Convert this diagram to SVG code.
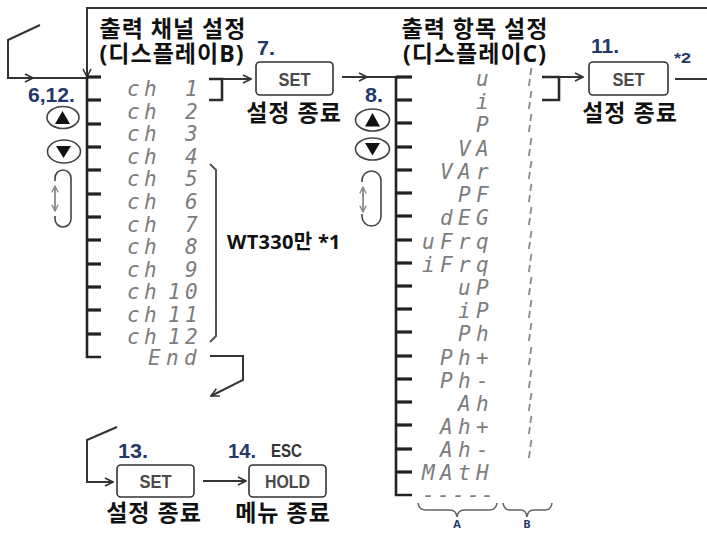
<svg xmlns="http://www.w3.org/2000/svg" width="707" height="533" viewBox="0 0 707 533">
<defs>
<style>
.ln{stroke:#333;stroke-width:2;fill:none}
.bk{stroke:#2a2a2a;stroke-width:2.6;fill:none}
.lad{stroke:#222;stroke-width:2.6;fill:none}
.tk{stroke:#222;stroke-width:3.2}
.seg{font-family:"DejaVu Sans Mono",monospace;font-style:italic;font-size:21px;fill:#7d7d7d}
.kr{font-family:"Open Sans","Noto Sans CJK KR",sans-serif;font-weight:700;font-size:23px;fill:#111;letter-spacing:1px}
.num{font-family:"Liberation Sans Narrow","Liberation Sans",sans-serif;font-weight:700;font-size:21px;fill:#23396b}
.key{font-family:"Liberation Sans Narrow","Liberation Sans",sans-serif;font-weight:700;font-size:18px;fill:#4a4a4a}
.box{fill:#fff;stroke:#333;stroke-width:1.6}
.btn{fill:#fff;stroke:#444;stroke-width:1.6}
.tri{fill:#111}
.gr{stroke:#8a8a8a;stroke-width:1.8;fill:none}
.brc{stroke:#666;stroke-width:1.6;fill:none}
</style>
<marker id="ah" viewBox="0 0 10 10" refX="9" refY="5" markerWidth="10" markerHeight="10" markerUnits="userSpaceOnUse" orient="auto">
<path d="M1,1 L9,5 L1,9" fill="none" stroke="#333" stroke-width="1.6"/>
</marker>
<marker id="gh" viewBox="0 0 10 10" refX="9" refY="5" markerWidth="8" markerHeight="8" markerUnits="userSpaceOnUse" orient="auto-start-reverse">
<path d="M1,1 L9,5 L1,9" fill="none" stroke="#888" stroke-width="1.6"/>
</marker>
</defs>
<rect width="707" height="533" fill="#fff"/>

<g id="connectors">
<path class="ln" d="M707,8 H87 V77" marker-end="url(#ah)"/>
<path class="ln" d="M40,25 L8,40 V78 H33" marker-end="url(#ah)"/>
<path class="ln" d="M33,78 H87"/>
<path class="bk" d="M209,79 H222 V100 H209"/>
<path class="ln" d="M222,79 H251" marker-end="url(#ah)"/>
<path class="ln" d="M342,77 H367" marker-end="url(#ah)"/>
<path class="ln" d="M367,77 H396"/>
<path class="bk" d="M542,77 H559 V100 H542"/>
<path class="ln" d="M559,77 H583" marker-end="url(#ah)"/>
<path class="ln" d="M675,79 H707"/>
<path class="ln" d="M210,356 H243 V380 L211,396" marker-end="url(#ah)"/>
<path class="ln" d="M117,427 L87,440 V482 H113" marker-end="url(#ah)"/>
<path class="ln" d="M203,481 H246" marker-end="url(#ah)"/>
</g>

<g id="ladder1">
<path class="lad" d="M87,77 V357 H101"/>
<g class="tk">
<line x1="87" y1="77" x2="101" y2="77"/><line x1="87" y1="100" x2="101" y2="100"/><line x1="87" y1="124" x2="101" y2="124"/><line x1="87" y1="147" x2="101" y2="147"/><line x1="87" y1="170" x2="101" y2="170"/><line x1="87" y1="194" x2="101" y2="194"/><line x1="87" y1="217" x2="101" y2="217"/><line x1="87" y1="240" x2="101" y2="240"/><line x1="87" y1="264" x2="101" y2="264"/><line x1="87" y1="287" x2="101" y2="287"/><line x1="87" y1="310" x2="101" y2="310"/><line x1="87" y1="334" x2="101" y2="334"/>
</g>
<g class="seg">
<text x="127 144 170 185" y="96">ch 1</text>
<text x="127 144 170 185" y="119">ch 2</text>
<text x="127 144 170 185" y="141">ch 3</text>
<text x="127 144 170 185" y="164">ch 4</text>
<text x="127 144 170 185" y="186">ch 5</text>
<text x="127 144 170 185" y="209">ch 6</text>
<text x="127 144 170 185" y="232">ch 7</text>
<text x="127 144 170 185" y="254">ch 8</text>
<text x="127 144 170 185" y="277">ch 9</text>
<text x="127 144 155 168 185" y="299">ch 10</text>
<text x="127 144 155 168 185" y="322">ch 11</text>
<text x="127 144 155 168 185" y="344">ch 12</text>
<text x="148 166 184" y="365">End</text>
</g>
<path class="bk" style="stroke:#555;stroke-width:2" d="M210,164 L216,170 V336 L210,342"/>
<text class="kr" style="font-size:20px;letter-spacing:0.3px" x="227" y="249">WT330만 *1</text>
</g>

<g id="title1">
<text class="kr" x="173" y="37" text-anchor="middle">출력 채널 설정</text>
<text class="kr" x="172" y="62" text-anchor="middle">(디스플레이B)</text>
</g>

<g id="buttons1">
<text class="num" x="28" y="102" textLength="47" lengthAdjust="spacingAndGlyphs">6,12.</text>
<ellipse class="btn" cx="63" cy="117.5" rx="16" ry="11"/>
<path class="tri" d="M62.5,111 L55,124 L70,124 Z"/>
<ellipse class="btn" cx="64" cy="151.5" rx="16.5" ry="11.5"/>
<path class="tri" d="M56,146 L71,146 L63.5,158 Z"/>
<path class="btn" style="fill:none" d="M55,181 V178 A8,8 0 0 1 71,178 V219 A8,8 0 0 1 55,219 V216"/>
<path class="gr" d="M55,186 V211" marker-start="url(#gh)" marker-end="url(#gh)"/>
</g>

<g id="set7">
<text class="num" x="257" y="55" textLength="18" lengthAdjust="spacingAndGlyphs">7.</text>
<rect class="box" x="256" y="62" width="77" height="33" rx="4"/>
<text class="key" x="294.5" y="85.5" text-anchor="middle" textLength="32" lengthAdjust="spacingAndGlyphs">SET</text>
<text class="kr" x="294" y="121" text-anchor="middle">설정 종료</text>
</g>

<g id="title2">
<text class="kr" x="475" y="37" text-anchor="middle">출력 항목 설정</text>
<text class="kr" x="475" y="62" text-anchor="middle">(디스플레이C)</text>
</g>

<g id="buttons2">
<text class="num" x="365" y="102" textLength="18" lengthAdjust="spacingAndGlyphs">8.</text>
<ellipse class="btn" cx="372.5" cy="120" rx="17" ry="11"/>
<path class="tri" d="M372.5,113 L365,126.5 L380,126.5 Z"/>
<ellipse class="btn" cx="372.5" cy="149" rx="17" ry="11"/>
<path class="tri" d="M365,143 L380,143 L372.5,155.5 Z"/>
<path class="btn" style="fill:none" d="M362,182 V180.5 A9.5,9.5 0 0 1 381,180.5 V216.5 A9.5,9.5 0 0 1 362,216.5 V214"/>
<path class="gr" d="M363,187 V212" marker-start="url(#gh)" marker-end="url(#gh)"/>
</g>

<g id="ladder2">
<path class="lad" d="M396,77 V495 H412"/>
<g class="tk">
<line x1="396" y1="77" x2="412" y2="77"/><line x1="396" y1="100" x2="412" y2="100"/><line x1="396" y1="123" x2="412" y2="123"/><line x1="396" y1="147" x2="412" y2="147"/><line x1="396" y1="170" x2="412" y2="170"/><line x1="396" y1="193" x2="412" y2="193"/><line x1="396" y1="216" x2="412" y2="216"/><line x1="396" y1="240" x2="412" y2="240"/><line x1="396" y1="263" x2="412" y2="263"/><line x1="396" y1="286" x2="412" y2="286"/><line x1="396" y1="309" x2="412" y2="309"/><line x1="396" y1="332" x2="412" y2="332"/><line x1="396" y1="356" x2="412" y2="356"/><line x1="396" y1="379" x2="412" y2="379"/><line x1="396" y1="402" x2="412" y2="402"/><line x1="396" y1="425" x2="412" y2="425"/><line x1="396" y1="449" x2="412" y2="449"/><line x1="396" y1="472" x2="412" y2="472"/>
</g>
<g class="seg">
<text x="476" y="86">u</text>
<text x="476" y="109">i</text>
<text x="476" y="132">P</text>
<text x="458 476" y="156">VA</text>
<text x="440 458 476" y="179">VAr</text>
<text x="458 476" y="202">PF</text>
<text x="440 458 476" y="225">dEG</text>
<text x="422 440 458 476" y="249">uFrq</text>
<text x="422 440 458 476" y="272">iFrq</text>
<text x="458 476" y="295">uP</text>
<text x="458 476" y="318">iP</text>
<text x="458 476" y="341">Ph</text>
<text x="440 458 476" y="365">Ph+</text>
<text x="440 458 476" y="388">Ph-</text>
<text x="458 476" y="411">Ah</text>
<text x="440 458 476" y="434">Ah+</text>
<text x="440 458 476" y="457">Ah-</text>
<text x="422 440 458 476" y="480">MAtH</text>
<text x="422 437 452 467 481" y="502">-----</text>
</g>
<path class="gr" d="M531.5,68 L530.3,75 M530,79 L528.8,86 M531.5,91 L530.3,98 M530,102 L528.8,109 M531.5,114 L530.3,121 M530,125 L528.8,132 M531.5,138 L530.3,145 M530,149 L528.8,156 M531.5,161 L530.3,168 M530,172 L528.8,179 M531.5,184 L530.3,191 M530,195 L528.8,202 M531.5,207 L530.3,214 M530,218 L528.8,225 M531.5,231 L530.3,238 M530,242 L528.8,249 M531.5,254 L530.3,261 M530,265 L528.8,272 M531.5,277 L530.3,284 M530,288 L528.8,295 M531.5,300 L530.3,307 M530,311 L528.8,318 M531.5,323 L530.3,330 M530,334 L528.8,341 M531.5,347 L530.3,354 M530,358 L528.8,365 M531.5,370 L530.3,377 M530,381 L528.8,388 M531.5,393 L530.3,400 M530,404 L528.8,411 M531.5,416 L530.3,423 M530,427 L528.8,434 M531.5,440 L530.3,447 M530,451 L528.8,458"/>
<path class="brc" d="M418,503 Q419,510 426,510 H450 Q456,510 457,517 Q458,510 464,510 H489 Q496,510 497,503"/>
<path class="brc" d="M503,503 Q504,510 510,510 H521 Q526,510 527,517 Q528,510 533,510 H545 Q551,510 552,503"/>
<text class="num" style="font-family:'Open Sans',sans-serif;font-size:11px" x="457" y="528" text-anchor="middle">A</text>
<text class="num" style="font-family:'Open Sans',sans-serif;font-size:11px" x="527" y="528" text-anchor="middle">B</text>
</g>

<g id="set11">
<text class="num" x="591" y="53" textLength="28" lengthAdjust="spacingAndGlyphs">11.</text>
<text class="num" style="font-size:15px" x="674" y="63" textLength="17" lengthAdjust="spacingAndGlyphs">*2</text>
<rect class="box" x="589" y="62" width="79" height="33" rx="4"/>
<text class="key" x="628.5" y="85.5" text-anchor="middle" textLength="32" lengthAdjust="spacingAndGlyphs">SET</text>
<text class="kr" x="630" y="121" text-anchor="middle">설정 종료</text>
</g>

<g id="set13">
<text class="num" x="118" y="458" textLength="30" lengthAdjust="spacingAndGlyphs">13.</text>
<rect class="box" x="117" y="465" width="77" height="32" rx="4"/>
<text class="key" x="155.5" y="488" text-anchor="middle" textLength="32" lengthAdjust="spacingAndGlyphs">SET</text>
<text class="kr" x="154" y="521" text-anchor="middle">설정 종료</text>
</g>

<g id="hold14">
<text class="num" x="228" y="458" textLength="28" lengthAdjust="spacingAndGlyphs">14.</text>
<text class="key" style="fill:#333;font-size:19px" x="271" y="457" textLength="31" lengthAdjust="spacingAndGlyphs">ESC</text>
<rect class="box" x="249" y="465" width="77" height="32" rx="4"/>
<text class="key" x="287.5" y="488" text-anchor="middle" textLength="45" lengthAdjust="spacingAndGlyphs">HOLD</text>
<text class="kr" x="283" y="521" text-anchor="middle">메뉴 종료</text>
</g>
</svg>
